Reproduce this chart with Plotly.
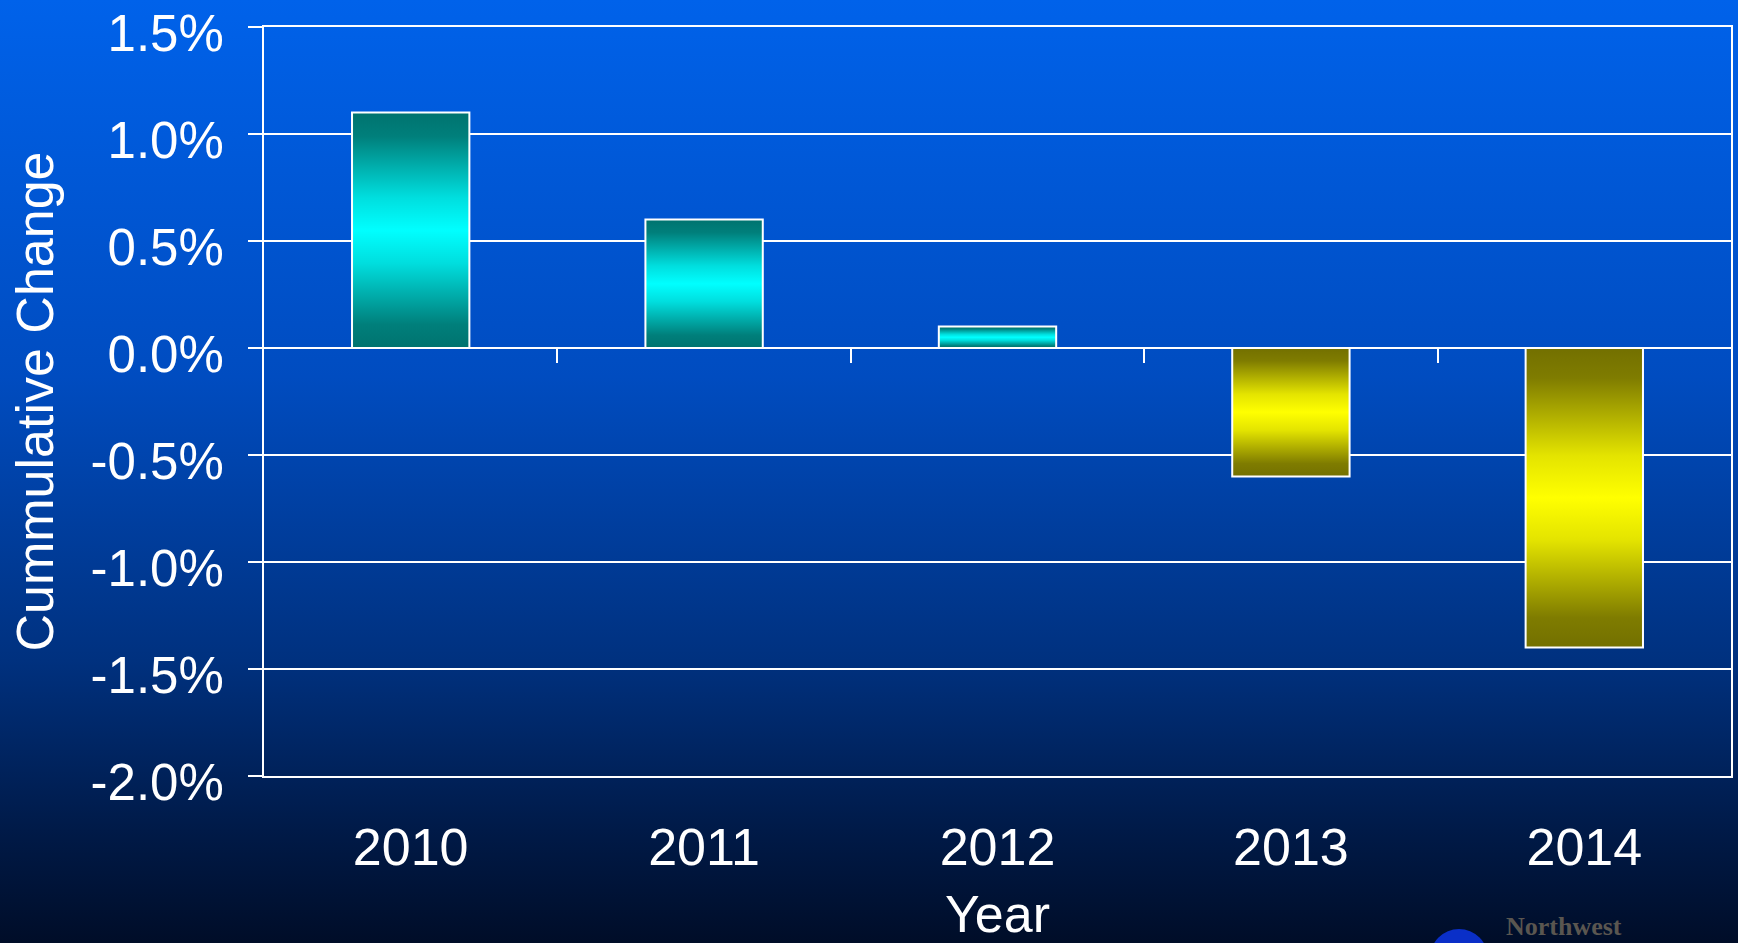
import base64
import plotly.graph_objects as go

# Chart data
years = ["2010", "2011", "2012", "2013", "2014"]
cumulative_change = [1.1, 0.6, 0.1, -0.6, -1.4]   # percent
y_tick_values = [-2.0, -1.5, -1.0, -0.5, 0.0, 0.5, 1.0, 1.5]
y_tick_labels = ["-2.0%", "-1.5%", "-1.0%", "-0.5%", "0.0%", "0.5%", "1.0%", "1.5%"]

W, H = 1738, 943
M_L, M_R, M_T, M_B = 264, 7, 27, 167
FONT = "Liberation Sans, Arial, sans-serif"
BAR_W = 0.40

pos_scale = [[0.0, "#00736f"], [0.10, "#007f7b"], [0.36, "#00dede"],
             [0.5, "#00ffff"], [0.64, "#00dede"], [0.90, "#007f7b"], [1.0, "#00736f"]]
neg_scale = [[0.0, "#737000"], [0.10, "#7f7c00"], [0.36, "#e4e400"],
             [0.5, "#ffff00"], [0.64, "#e4e400"], [0.90, "#7f7c00"], [1.0, "#737000"]]

fig = go.Figure()

for i, v in enumerate(cumulative_change):
    x0, x1 = i - BAR_W / 2, i + BAR_W / 2
    fig.add_trace(go.Scatter(
        x=[x0, x0, x1, x1, x0],
        y=[0, v, v, 0, 0],
        mode="lines",
        fill="toself",
        fillgradient=dict(type="vertical",
                          colorscale=pos_scale if v >= 0 else neg_scale),
        line=dict(color="white", width=2),
        hoverinfo="skip",
        showlegend=False,
    ))

# invisible trace carrying the category-boundary tick axis along y = 0
fig.add_trace(go.Scatter(x=[-0.5, 4.5], y=[0, 0], xaxis="x2", mode="markers",
                         marker=dict(opacity=0), hoverinfo="skip", showlegend=False))

y_lo, y_hi = y_tick_values[0], y_tick_values[-1]
zero_frac = (0 - y_lo) / (y_hi - y_lo)

# background: vertical blue-to-navy gradient
svg = (
    '<svg xmlns="http://www.w3.org/2000/svg" width="100" height="100" '
    'viewBox="0 0 100 100" preserveAspectRatio="none">'
    '<defs><linearGradient id="g" x1="0" y1="0" x2="0" y2="1">'
    '<stop offset="0" stop-color="#0062ea"/>'
    '<stop offset="0.40" stop-color="#004cc0"/>'
    '<stop offset="0.70" stop-color="#00317f"/>'
    '<stop offset="0.88" stop-color="#001a48"/>'
    '<stop offset="1" stop-color="#000d28"/>'
    '</linearGradient></defs>'
    '<rect x="0" y="0" width="100" height="100" fill="url(#g)"/></svg>'
)
bg_src = "data:image/svg+xml;base64," + base64.b64encode(svg.encode()).decode()
pw = W - M_L - M_R
ph = H - M_T - M_B

fig.update_layout(
    width=W, height=H,
    margin=dict(l=M_L, r=M_R, t=M_T, b=M_B, autoexpand=False),
    paper_bgcolor="#000d28",
    plot_bgcolor="rgba(0,0,0,0)",
    font=dict(family=FONT, color="white"),
    images=[dict(source=bg_src, xref="paper", yref="paper",
                 x=-M_L / pw, y=1 + M_T / ph, sizex=W / pw, sizey=H / ph,
                 xanchor="left", yanchor="top", sizing="stretch", layer="below")],
    xaxis=dict(
        range=[-0.5, 4.5], tickvals=list(range(len(years))), ticktext=years,
        ticks="", showgrid=False, zeroline=False, automargin=False,
        showline=True, mirror=True, linecolor="white", linewidth=2,
        tickfont=dict(size=52, color="white"), ticklabelstandoff=25,
        ticklabeloverflow="allow",
        title=dict(text="Year", font=dict(size=52, color="white"), standoff=43),
    ),
    xaxis2=dict(
        overlaying="x", anchor="free", position=zero_frac, range=[-0.5, 4.5],
        tickvals=[i + 0.5 for i in range(len(years) - 1)], automargin=False,
        ticks="outside", ticklen=14, tickwidth=2, tickcolor="white",
        showticklabels=False, showgrid=False, zeroline=False, showline=False,
    ),
    yaxis=dict(
        range=[y_lo, y_hi], tickvals=y_tick_values, ticktext=y_tick_labels,
        showgrid=True, gridcolor="white", gridwidth=2, zeroline=False,
        showline=True, mirror=True, linecolor="white", linewidth=2, automargin=False,
        ticks="outside", ticklen=14, tickwidth=2, tickcolor="white",
        tickfont=dict(size=51, color="white"), ticklabelstandoff=14,
        ticklabelshift=6, ticklabeloverflow="allow",
        title=dict(text="Cummulative Change", font=dict(size=52, color="white"), standoff=20),
    ),
    shapes=[dict(type="circle", xref="paper", yref="paper",
                 x0=(1430 - M_L) / pw, x1=(1488 - M_L) / pw,
                 y0=(H - M_B - 987) / ph, y1=(H - M_B - 929) / ph,
                 fillcolor="#0a2fc8", line=dict(width=0), layer="above")],
    annotations=[dict(text="<b>Northwest</b>", xref="paper", yref="paper",
                      x=(1504 - M_L) / pw, y=(H - M_B - H) / ph,
                      xanchor="left", yanchor="bottom", showarrow=False,
                      font=dict(family="Liberation Serif, Times New Roman, serif",
                                size=26, color="#5a5650"))],
)

fig.write_html("out.html")
